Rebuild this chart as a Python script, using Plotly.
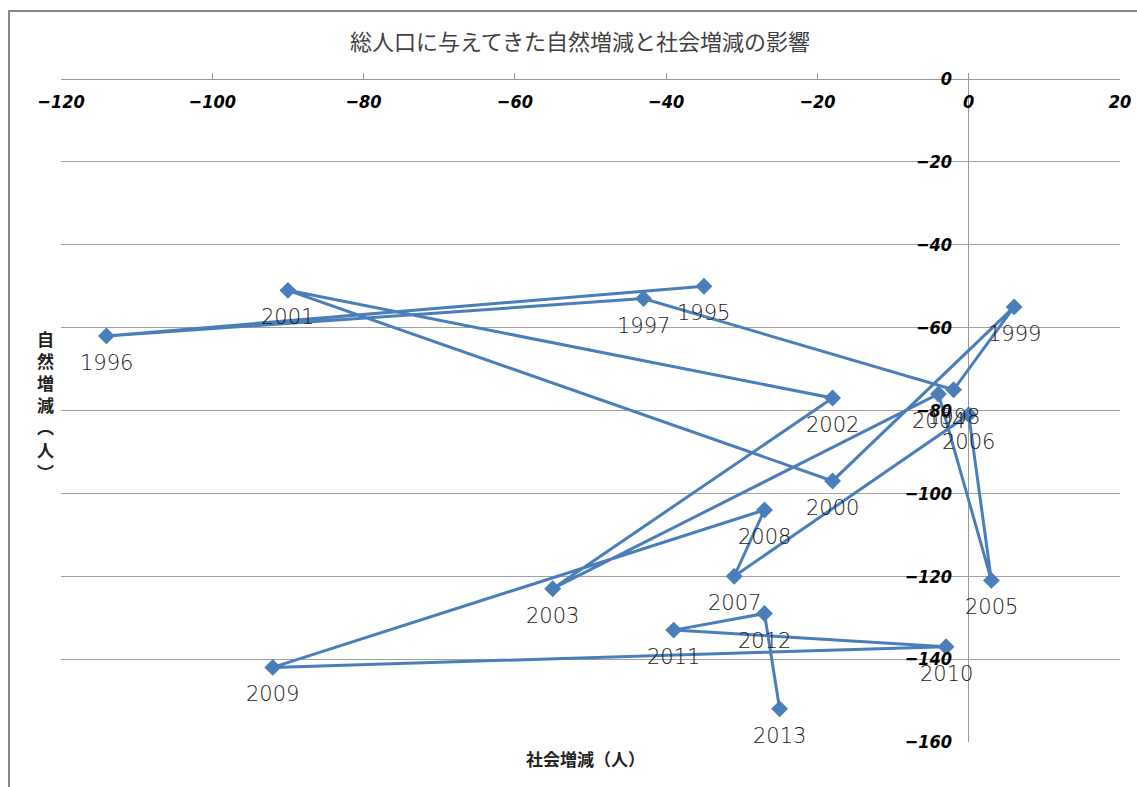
import plotly.graph_objects as go

years = [str(y) for y in range(1995, 2014)]
social = [-35, -114, -43, -2, 6, -18, -90, -18, -55, -4, 3, 0, -31, -27, -92, -3, -39, -27, -25]
natural = [-50, -62, -53, -75, -55, -97, -51, -77, -123, -76, -121, -81, -120, -104, -142, -137, -133, -129, -152]

title_text = "総人口に与えてきた自然増減と社会増減の影響"
x_title = "社会増減（人）"
y_title = "自然増減（人）"

W, H = 1137, 787
L, R, T, B = 61, 17, 79, 45
pw, ph = W - L - R, H - T - B

def px2paper_x(px):
    return (px - L) / pw

def px2paper_y(py):
    return (H - B - py) / ph

blue = "#4A7EBB"
tickfont = dict(family="DejaVu Sans Condensed, DejaVu Sans", size=18, color="#000000",
                weight="bold", style="italic")
labelfont = dict(family="DejaVu Sans", size=21, color="#1a1a1a", weight=300)

fig = go.Figure()
fig.add_trace(go.Scatter(
    x=social, y=natural, mode="lines+markers",
    line=dict(color=blue, width=3),
    marker=dict(symbol="diamond", size=13, color=blue),
    cliponaxis=False,
    showlegend=False,
))

annotations = [
    dict(x=sx, y=ny, text=yr, xref="x", yref="y", showarrow=False,
         xanchor="center", yanchor="middle", yshift=-27, font=labelfont)
    for sx, ny, yr in zip(social, natural, years)
]
annotations += [
    dict(text=x_title, xref="paper", yref="paper", x=px2paper_x(585), y=px2paper_y(758),
         showarrow=False, xanchor="center", yanchor="middle",
         font=dict(family="Noto Sans CJK JP", size=17, color="#222222", weight="bold")),
    dict(text="<br>".join(["自", "然", "増", "減", "︵", "人", "︶"]), xref="paper", yref="paper",
         x=px2paper_x(45), y=px2paper_y(405), showarrow=False, xanchor="center", yanchor="middle",
         font=dict(family="Noto Sans CJK JP", size=17, color="#222222", weight="bold")),
]

fig.update_layout(
    width=W, height=H,
    margin=dict(l=L, r=R, t=T, b=B, autoexpand=False),
    paper_bgcolor="white", plot_bgcolor="white",
    title=dict(text=title_text, x=580 / W, xanchor="center", y=1 - 42 / H, yanchor="middle",
               xref="container", yref="container", automargin=False,
               font=dict(family="Noto Sans CJK JP", size=22, color="#404040")),
    xaxis=dict(range=[-120, 20], dtick=20, side="bottom", anchor="free", position=1,
               ticks="inside", ticklen=6, tickcolor="#999999",
               showline=True, linecolor="#999999", linewidth=1,
               showgrid=False, zeroline=True, zerolinecolor="#999999", zerolinewidth=1,
               tickfont=tickfont, ticklabelstandoff=6, domain=[0, 1], automargin=False),
    yaxis=dict(range=[-160, 0], dtick=20, anchor="free", position=px2paper_x(969),
               showline=False, ticks="", showgrid=True, gridcolor="#A0A0A0", gridwidth=1,
               zeroline=False, tickfont=tickfont, ticklabelstandoff=17, automargin=False),
    shapes=[dict(type="rect", xref="paper", yref="paper",
                 x0=px2paper_x(9), x1=px2paper_x(1160), y0=px2paper_y(810), y1=px2paper_y(11),
                 line=dict(color="#888888", width=2), fillcolor="rgba(0,0,0,0)", layer="below")],
    annotations=annotations,
)

fig.write_html("out.html")
